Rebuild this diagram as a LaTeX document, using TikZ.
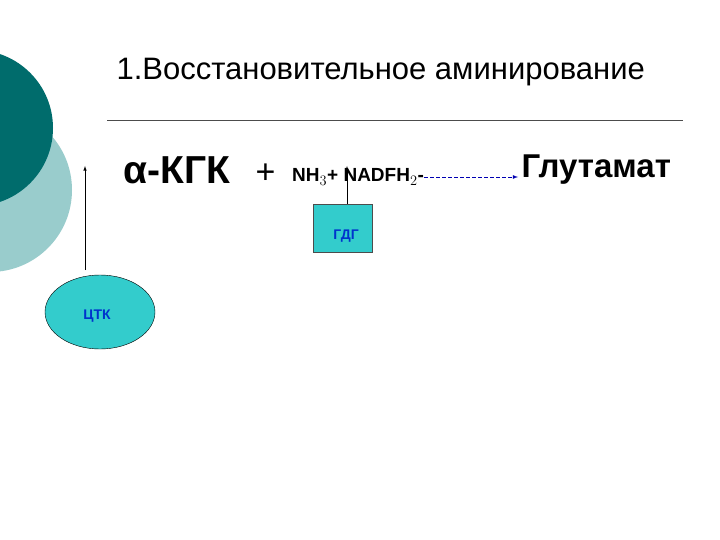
\documentclass[tikz,border=0pt]{standalone}
\usepackage{fontspec}
\setmainfont{Liberation Sans}
\usetikzlibrary{shapes.geometric}
\begin{document}
\begin{tikzpicture}[x=1pt,y=-1pt,
 conn/.style={draw=black,semithick,-latex}]
\useasboundingbox (0,0) rectangle (720,540);
\fill[white] (0,0) rectangle (720,540);
\begin{scope}
\clip (0,0) rectangle (720,540);
\fill[teal!40!white] (-10,190) circle (82);
\fill[teal!85!black] (-25,128) circle (78);
\end{scope}
\node[anchor=west,font=\fontsize{31}{34}\selectfont] (title) at (113,72) {1.Восстановительное аминирование};
\draw[black!70] (107,120) -- (683,120);
\node[anchor=west,font=\bfseries\fontsize{39}{42}\selectfont] (akg) at (120,170) {α-КГК};
\node[anchor=west,font=\fontsize{34}{36}\selectfont] (plus) at (252,174) {+};
\node[anchor=west,font=\bfseries\fontsize{19}{21}\selectfont,inner sep=0] (nh) at (292,177) {NH$_3$+ NADFH$_2$-};
\node[anchor=west,font=\bfseries\fontsize{33}{36}\selectfont] (glu) at (518,170) {Глутамат};
\draw[blue!70!black,thick,dash pattern=on 4pt off 2pt,-latex] (nh.east) -- (nh.east -| glu.west);
\node[draw=black!70,fill={rgb,255:red,51;green,204;blue,204},minimum width=59,minimum height=48,inner sep=0] (gdg) at (343,228) {};
\node[font=\bfseries\fontsize{14}{16}\selectfont,text={rgb,255:red,0;green,51;blue,204}] (gdgt) at (346,236) {ГДГ};
\draw[conn] (gdg.north) ++(4,0) coordinate (g1) -- (347,166) coordinate (g2);
\node[ellipse,draw=black,fill={rgb,255:red,51;green,204;blue,204},minimum width=110,minimum height=74] (ctk) at (100,312) {};
\node[font=\bfseries\fontsize{14}{16}\selectfont,text={rgb,255:red,0;green,51;blue,204}] (ctkt) at (97,316) {ЦТК};
\coordinate (c1) at (85,270);
\coordinate (c2) at (85,166);
\draw[conn] (c1) -- (c2);
\end{tikzpicture}
\end{document}
